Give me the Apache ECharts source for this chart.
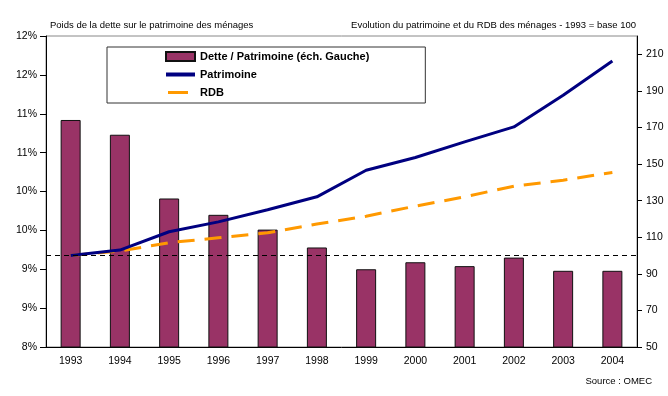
<!DOCTYPE html>
<html lang="fr">
<head>
<meta charset="UTF-8">
<script src="https://cdn.jsdelivr.net/npm/echarts@6/dist/echarts.min.js"></script>
<title>Dette et patrimoine des ménages</title>
</head>
<body style="margin:0">
<div id="chart" style="width:668px;height:396px"></div>
<script>
var years = ['1993', '1994', '1995', '1996', '1997', '1998', '1999', '2000', '2001', '2002', '2003', '2004'];
// dette / patrimoine en %, échelle de gauche
var dette = [10.92, 10.73, 9.91, 9.70, 9.51, 9.28, 9.00, 9.09, 9.04, 9.15, 8.98, 8.98];
// base 100 en 1993, échelle de droite
var patrimoine = [100, 103.0, 113.0, 118.4, 125.0, 132.1, 146.6, 153.6, 162.1, 170.3, 187.6, 206.3];
var rdb = [100, 102.5, 107.0, 109.7, 112.4, 117.2, 121.5, 127.0, 132.1, 137.9, 141.2, 145.4];
var base = 100;

var font = '"Liberation Sans", Arial, sans-serif';

var myChart = echarts.init(document.getElementById('chart'));
var option = {
    animation: false,
    textStyle: { fontFamily: font },
    title: [
        { text: 'Poids de la dette sur le patrimoine des ménages', left: 50, top: 20, padding: 0,
          textStyle: { fontSize: 9.5, fontWeight: 'normal', color: '#000', fontFamily: font } },
        { text: 'Evolution du patrimoine et du RDB des ménages - 1993 = base 100', right: 32, top: 20, padding: 0,
          textStyle: { fontSize: 9.5, fontWeight: 'normal', color: '#000', fontFamily: font } },
        { text: 'Source : OMEC', right: 16, top: 376, padding: 0,
          textStyle: { fontSize: 9.5, fontWeight: 'normal', color: '#000', fontFamily: font } }
    ],
    legend: {
        orient: 'vertical',
        left: 107,
        top: 47,
        padding: [4, 56, 5, 58],
        itemGap: 7,
        itemWidth: 29,
        itemHeight: 12,
        borderColor: '#333',
        borderWidth: 1,
        backgroundColor: '#fff',
        textStyle: { fontSize: 11, fontWeight: 'bold', color: '#000', fontFamily: font },
        data: [
            { name: 'Dette / Patrimoine (éch. Gauche)', icon: 'path://M0,0H29V9H0Z' },
            { name: 'Patrimoine', icon: 'path://M0,0H29V4H0Z' },
            { name: 'RDB', icon: 'path://M-2,0M27,3M0,0H20V3H0Z' }
        ]
    },
    grid: {
        left: 46, right: 31, top: 36, bottom: 49,
        outerBoundsMode: 'none',
        show: true, borderColor: '#888', borderWidth: 1
    },
    xAxis: {
        type: 'category',
        data: years,
        axisLine: { lineStyle: { color: '#000' } },
        axisTick: { alignWithLabel: false, length: 5, lineStyle: { color: '#000' } },
        axisLabel: { color: '#000', fontSize: 10.5, margin: 9 }
    },
    yAxis: [
        {
            type: 'value',
            min: 8, max: 12, interval: 0.5,
            axisLine: { show: true, lineStyle: { color: '#000' } },
            axisTick: { show: true, length: 6, lineStyle: { color: '#000' } },
            axisLabel: { color: '#000', fontSize: 10.5, margin: 9,
                formatter: function (v) { return Math.round(v) + '%'; } },
            splitLine: { show: false }
        },
        {
            type: 'value',
            min: 50, max: 220, interval: 20,
            axisLine: { show: true, lineStyle: { color: '#000' } },
            axisTick: { show: true, length: 5, lineStyle: { color: '#000' } },
            axisLabel: { color: '#000', fontSize: 10.5, margin: 9, showMaxLabel: false },
            splitLine: { show: false }
        }
    ],
    series: [
        {
            name: 'Dette / Patrimoine (éch. Gauche)',
            type: 'bar',
            yAxisIndex: 0,
            data: dette,
            barWidth: 20,
            itemStyle: { color: '#993366', borderColor: '#111', borderWidth: 1 }
        },
        {
            name: 'Patrimoine',
            type: 'line',
            yAxisIndex: 1,
            data: patrimoine,
            symbol: 'none',
            lineStyle: { color: '#000080', width: 3 },
            itemStyle: { color: '#000080' },
            z: 4,
            markLine: {
                silent: true,
                symbol: 'none',
                label: { show: false },
                lineStyle: { color: '#000', type: [5, 4], width: 1 },
                data: [{ yAxis: base }]
            }
        },
        {
            name: 'RDB',
            type: 'line',
            yAxisIndex: 1,
            data: rdb,
            symbol: 'none',
            lineStyle: { color: '#FF9900', width: 3, type: [17, 10] },
            itemStyle: { color: '#FF9900' },
            z: 3
        }
    ]
};
myChart.setOption(option);
</script>
</body>
</html>
